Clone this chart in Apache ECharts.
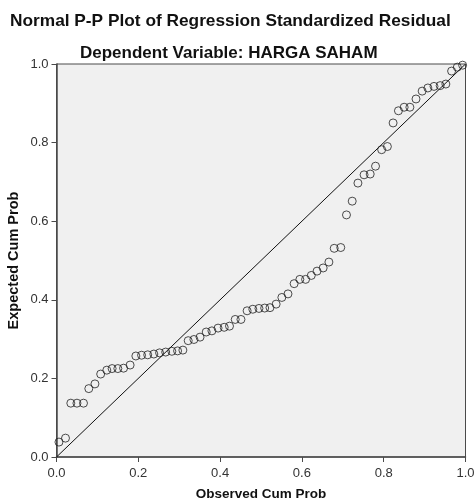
<!DOCTYPE html>
<html>
<head>
<meta charset="utf-8">
<script src="https://cdn.jsdelivr.net/npm/echarts@6/dist/echarts.min.js"></script>
<style>
  html, body { margin: 0; padding: 0; background: #fff; }
  #pp { width: 476px; height: 504px; }
</style>
</head>
<body>
<div id="pp"></div>
<script>
var observedCumProb = [
    0.006, 0.022, 0.035, 0.050, 0.066, 0.079, 0.094, 0.108, 0.123, 0.136,
    0.150, 0.164, 0.180, 0.194, 0.208, 0.223, 0.238, 0.252, 0.267, 0.282,
    0.296, 0.309, 0.322, 0.336, 0.351, 0.366, 0.380, 0.395, 0.410, 0.423,
    0.437, 0.451, 0.466, 0.480, 0.495, 0.509, 0.522, 0.537, 0.551, 0.566,
    0.581, 0.595, 0.609, 0.623, 0.637, 0.652, 0.666, 0.679, 0.695, 0.709,
    0.723, 0.737, 0.752, 0.767, 0.780, 0.795, 0.809, 0.823, 0.836, 0.850,
    0.864, 0.879, 0.894, 0.908, 0.923, 0.938, 0.952, 0.966, 0.980, 0.993
];
var expectedCumProb = [
    0.038, 0.048, 0.137, 0.137, 0.137, 0.174, 0.186, 0.211, 0.221, 0.225,
    0.225, 0.226, 0.234, 0.257, 0.259, 0.260, 0.262, 0.265, 0.267, 0.269,
    0.270, 0.272, 0.296, 0.299, 0.305, 0.318, 0.321, 0.328, 0.330, 0.333,
    0.350, 0.350, 0.372, 0.376, 0.378, 0.379, 0.380, 0.389, 0.406, 0.415,
    0.441, 0.452, 0.452, 0.462, 0.473, 0.481, 0.496, 0.531, 0.533, 0.616,
    0.651, 0.697, 0.718, 0.720, 0.740, 0.782, 0.790, 0.850, 0.881, 0.890,
    0.890, 0.911, 0.931, 0.939, 0.943, 0.945, 0.949, 0.982, 0.992, 0.997
];
var refLine = [[0, 0], [1, 1]];

var points = observedCumProb.map(function (x, i) { return [x, expectedCumProb[i]]; });

var chart = echarts.init(document.getElementById('pp'));
var axisColor = '#4a4a4a';
var font = 'Arial, "Liberation Sans", sans-serif';

var option = {
    backgroundColor: '#ffffff',
    animation: false,
    title: [
        {
            text: 'Normal P-P Plot of Regression Standardized Residual',
            left: 5, top: 8,
            textStyle: { fontFamily: font, fontWeight: 'bold', fontSize: 17.3, color: '#111' }
        },
        {
            text: 'Dependent Variable: HARGA SAHAM',
            left: 75, top: 40,
            textStyle: { fontFamily: font, fontWeight: 'bold', fontSize: 17, color: '#111' }
        }
    ],
    grid: {
        left: 56.5, right: 10.5, top: 64, bottom: 47,
        outerBoundsMode: 'none',
        containLabel: false,
        show: true,
        backgroundColor: '#f0f0f0',
        borderColor: axisColor,
        borderWidth: 1
    },
    xAxis: {
        type: 'value', min: 0, max: 1, interval: 0.2,
        name: 'Observed Cum Prob',
        nameLocation: 'middle', nameGap: 30,
        nameTextStyle: { fontFamily: font, fontWeight: 'bold', fontSize: 13.5, color: '#111' },
        axisLine: { lineStyle: { color: axisColor, width: 1.5 } },
        axisTick: { length: 5, lineStyle: { color: axisColor } },
        axisLabel: {
            margin: 10, fontFamily: font, fontSize: 13, color: '#333',
            formatter: function (v) { return v.toFixed(1); }
        },
        splitLine: { show: false }
    },
    yAxis: {
        type: 'value', min: 0, max: 1, interval: 0.2,
        name: 'Expected Cum Prob',
        nameLocation: 'middle', nameGap: 35,
        nameMoveOverlap: false,
        nameTextStyle: { fontFamily: font, fontWeight: 'bold', fontSize: 14.5, color: '#111' },
        axisLine: { lineStyle: { color: axisColor, width: 1.5 } },
        axisTick: { length: 5, lineStyle: { color: axisColor } },
        axisLabel: {
            margin: 8, fontFamily: font, fontSize: 13, color: '#333',
            formatter: function (v) { return v.toFixed(1); }
        },
        splitLine: { show: false }
    },
    series: [
        {
            type: 'line',
            data: refLine,
            symbol: 'none',
            lineStyle: { color: '#111', width: 1 },
            z: 2
        },
        {
            type: 'scatter',
            data: points,
            symbol: 'circle',
            symbolSize: 8,
            itemStyle: { color: 'rgba(0,0,0,0)', borderColor: '#222', borderWidth: 1 },
            z: 3
        }
    ]
};

chart.setOption(option);
</script>
</body>
</html>
